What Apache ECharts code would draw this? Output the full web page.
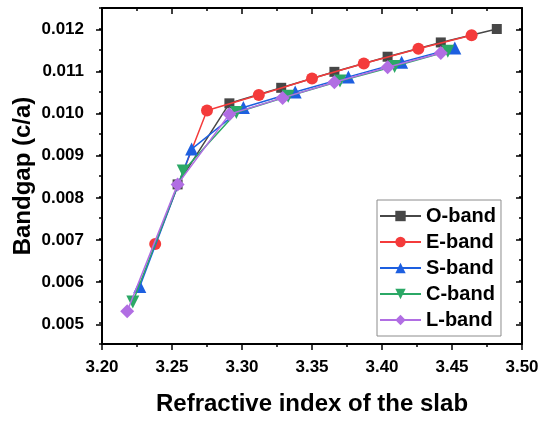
<!DOCTYPE html>
<html>
<head>
<meta charset="utf-8">
<script src="https://cdn.jsdelivr.net/npm/echarts@6/dist/echarts.min.js"></script>
<style>
  html, body { margin: 0; padding: 0; background: #fff; }
  #chart { width: 542px; height: 421px; }
</style>
</head>
<body>
<div id="chart"></div>
<script>
// Bandgap vs refractive index of the slab, one curve per telecom band
const bandNames = ['O-band', 'E-band', 'S-band', 'C-band', 'L-band'];

const oIndex = [3.254, 3.291, 3.328, 3.366, 3.404, 3.442, 3.482];
const oGap   = [0.0083, 0.01023, 0.0106, 0.01098, 0.01134, 0.01168, 0.0120];

const eIndex = [3.238, 3.275, 3.312, 3.350, 3.387, 3.426, 3.464];
const eGap   = [0.00688, 0.01006, 0.01043, 0.01082, 0.01118, 0.01153, 0.01185];

const sIndex = [3.227, 3.264, 3.301, 3.338, 3.376, 3.414, 3.452];
const sGap   = [0.00587, 0.00914, 0.01013, 0.0105, 0.01086, 0.01121, 0.01155];

const cIndex = [3.222, 3.258, 3.296, 3.333, 3.370, 3.409, 3.447];
const cGap   = [0.0055, 0.00862, 0.01001, 0.0104, 0.01076, 0.01111, 0.01147];

const lIndex = [3.218, 3.254, 3.291, 3.329, 3.366, 3.404, 3.442];
const lGap   = [0.00528, 0.0083, 0.00997, 0.01036, 0.01073, 0.01109, 0.01143];

const FONT = '"Liberation Sans", Arial, sans-serif';
const pairs = (xs, ys) => xs.map((x, i) => [x, ys[i]]);

const styles = [
  { color: '#474747', symbol: 'rect', size: 10, rotate: 0 },
  { color: '#f43b3b', symbol: 'circle', size: 12, rotate: 0 },
  { color: '#1d5fe0', symbol: 'triangle', size: 13, rotate: 0 },
  { color: '#2ba866', symbol: 'triangle', size: 13, rotate: 180 },
  { color: '#b16ee3', symbol: 'diamond', size: 14, rotate: 0 }
];
const data = [
  pairs(oIndex, oGap), pairs(eIndex, eGap), pairs(sIndex, sGap),
  pairs(cIndex, cGap), pairs(lIndex, lGap)
];

const frameLine = { show: true, lineStyle: { color: '#000', width: 2 } };
const tickLabel = { color: '#000', fontFamily: FONT, fontWeight: 'bold', fontSize: 17 };

const chart = echarts.init(document.getElementById('chart'), null, { renderer: 'canvas' });
chart.setOption({
  animation: false,
  backgroundColor: '#fff',
  grid: [
    { left: 102, right: 20, top: 8, bottom: 77 },
    // same plot area, restricted to the labelled 0.005–0.012 span
    { left: 102, right: 20, top: 29.3, bottom: 96.7 }
  ],
  xAxis: [
    {
      gridIndex: 0, type: 'value', position: 'bottom',
      min: 3.2, max: 3.5, interval: 0.05,
      name: 'Refractive index of the slab', nameLocation: 'middle', nameGap: 48,
      nameTextStyle: { color: '#000', fontFamily: FONT, fontWeight: 'bold', fontSize: 24 },
      axisLine: frameLine,
      axisTick: { show: true, inside: false, length: 6, lineStyle: { color: '#000', width: 1.5 } },
      minorTick: { show: true, splitNumber: 2, length: 3, lineStyle: { color: '#000', width: 1.5 } },
      axisLabel: Object.assign({ margin: 15, formatter: v => v.toFixed(2) }, tickLabel),
      splitLine: { show: false }
    },
    {
      gridIndex: 0, type: 'value', position: 'top',
      min: 3.2, max: 3.5, interval: 0.05,
      axisLine: frameLine,
      axisTick: { show: true, inside: true, length: 6, lineStyle: { color: '#000', width: 1.5 } },
      minorTick: { show: true, splitNumber: 2, length: 3, lineStyle: { color: '#000', width: 1.5 } },
      axisLabel: { show: false },
      splitLine: { show: false }
    },
    { gridIndex: 1, type: 'value', min: 3.2, max: 3.5, show: false }
  ],
  yAxis: [
    {
      gridIndex: 0, type: 'value', position: 'left',
      min: 0.0045, max: 0.0125, interval: 0.0005,
      name: 'Bandgap (c/a)', nameLocation: 'middle', nameGap: 67, nameRotate: 90,
      nameTextStyle: { color: '#000', fontFamily: FONT, fontWeight: 'bold', fontSize: 24 },
      axisLine: frameLine,
      axisTick: { show: true, inside: false, length: 3, lineStyle: { color: '#000', width: 1.5 } },
      axisLabel: { show: false },
      splitLine: { show: false }
    },
    {
      gridIndex: 0, type: 'value', position: 'right',
      min: 0.0045, max: 0.0125, interval: 0.0005,
      axisLine: frameLine,
      axisTick: { show: true, inside: true, length: 3, lineStyle: { color: '#000', width: 1.5 } },
      axisLabel: { show: false },
      splitLine: { show: false }
    },
    {
      gridIndex: 1, type: 'value', position: 'left',
      min: 0.005, max: 0.012, interval: 0.001,
      axisLine: { show: false },
      axisTick: { show: true, inside: false, length: 6, lineStyle: { color: '#000', width: 1.5 } },
      axisLabel: Object.assign({ margin: 18, formatter: v => v.toFixed(3) }, tickLabel),
      splitLine: { show: false }
    },
    {
      gridIndex: 1, type: 'value', position: 'right',
      min: 0.005, max: 0.012, interval: 0.001,
      axisLine: { show: false },
      axisTick: { show: true, inside: true, length: 6, lineStyle: { color: '#000', width: 1.5 } },
      axisLabel: { show: false },
      splitLine: { show: false }
    }
  ],
  legend: {
    orient: 'vertical',
    left: 377, top: 200,
    padding: [6, 5, 6, 2],
    itemGap: 6,
    itemWidth: 41, itemHeight: 13,
    backgroundColor: '#fff',
    borderColor: '#8c8c8c', borderWidth: 1,
    textStyle: { color: '#000', fontFamily: FONT, fontWeight: 'bold', fontSize: 20 },
    data: bandNames
  },
  series: bandNames.map((name, i) => ({
    name,
    type: 'line',
    xAxisIndex: 0, yAxisIndex: 0,
    data: data[i],
    symbol: styles[i].symbol,
    symbolSize: styles[i].size,
    symbolRotate: styles[i].rotate,
    showAllSymbol: true,
    color: styles[i].color,
    lineStyle: { color: styles[i].color, width: 1.5 },
    itemStyle: { color: styles[i].color },
    z: 2 + i
  }))
});
</script>
</body>
</html>
